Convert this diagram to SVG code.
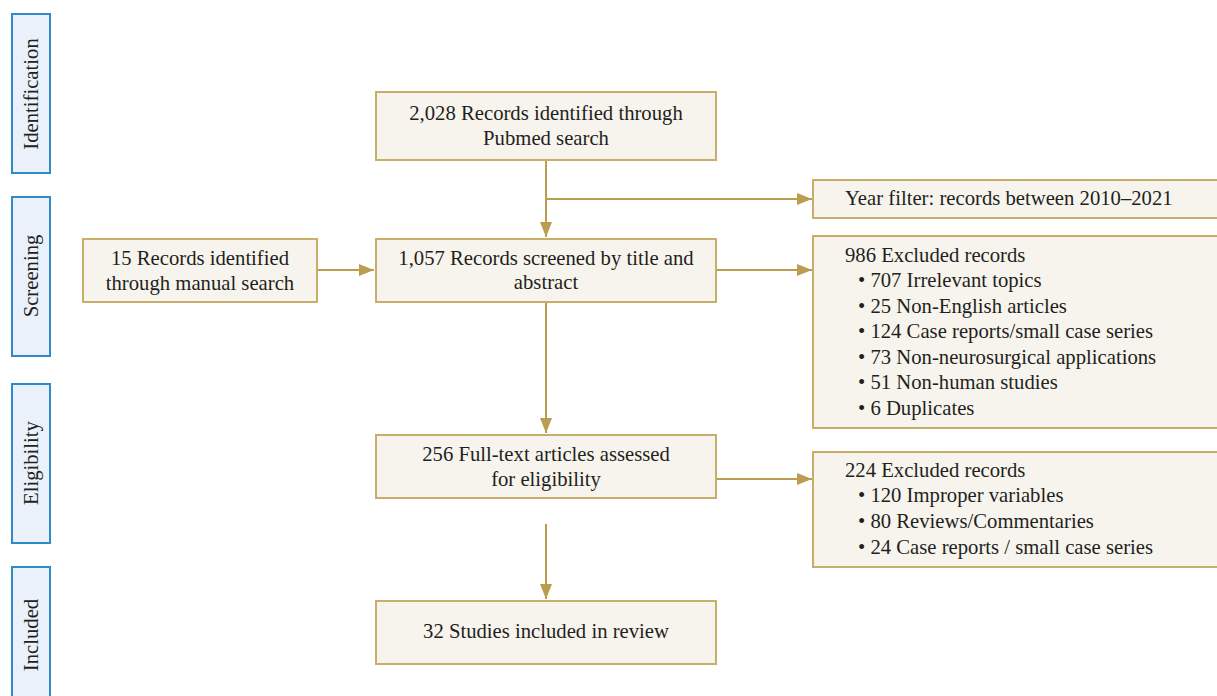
<svg xmlns="http://www.w3.org/2000/svg" width="1217" height="696" viewBox="0 0 1217 696">
<style>
.box{fill:#F7F4EE;stroke:#C9AE6B;stroke-width:2}
.stage{fill:#EAF1FA;stroke:#2E8BC6;stroke-width:2}
.t{font-family:"Liberation Serif","Times New Roman",serif;font-size:20.7px;fill:#231F20}
.c{text-anchor:middle}
.conn{stroke:#BB9D52;stroke-width:2;fill:none}
</style>
<defs>
<marker id="ah" markerUnits="userSpaceOnUse" markerWidth="15" markerHeight="12" refX="15" refY="6" orient="auto">
<path d="M0,0 L15,6 L0,12 z" fill="#BB9D52"/>
</marker>
</defs>
<rect width="1217" height="696" fill="#FFFFFF"/>

<g id="stage-identification">
<rect class="stage" x="12" y="14" width="38" height="159"/>
<text class="t c" transform="translate(38,94) rotate(-90)">Identification</text>
</g>
<g id="stage-screening">
<rect class="stage" x="12" y="197" width="38" height="159"/>
<text class="t c" transform="translate(38,276) rotate(-90)">Screening</text>
</g>
<g id="stage-eligibility">
<rect class="stage" x="12" y="384" width="38" height="159"/>
<text class="t c" transform="translate(38,463) rotate(-90)">Eligibility</text>
</g>
<g id="stage-included">
<rect class="stage" x="12" y="567" width="38" height="159"/>
<text class="t c" transform="translate(38,635) rotate(-90)">Included</text>
</g>

<g id="connectors">
<line class="conn" x1="546" y1="160" x2="546" y2="237" marker-end="url(#ah)"/>
<line class="conn" x1="546" y1="199" x2="812" y2="199" marker-end="url(#ah)"/>
<line class="conn" x1="317" y1="270" x2="374" y2="270" marker-end="url(#ah)"/>
<line class="conn" x1="716" y1="270" x2="812" y2="270" marker-end="url(#ah)"/>
<line class="conn" x1="546" y1="302" x2="546" y2="433" marker-end="url(#ah)"/>
<line class="conn" x1="716" y1="479" x2="812" y2="479" marker-end="url(#ah)"/>
<line class="conn" x1="546" y1="524" x2="546" y2="599" marker-end="url(#ah)"/>
</g>

<g id="node-pubmed">
<rect class="box" x="376" y="92" width="340" height="68"/>
<text class="t c" x="546" y="120">2,028 Records identified through</text>
<text class="t c" x="546" y="145">Pubmed search</text>
</g>
<g id="node-manual">
<rect class="box" x="83" y="239" width="234" height="63"/>
<text class="t c" x="200" y="265">15 Records identified</text>
<text class="t c" x="200" y="290">through manual search</text>
</g>
<g id="node-screened">
<rect class="box" x="376" y="239" width="340" height="63"/>
<text class="t c" x="546" y="265">1,057 Records screened by title and</text>
<text class="t c" x="546" y="289">abstract</text>
</g>
<g id="node-yearfilter">
<rect class="box" x="813" y="180" width="410" height="38"/>
<text class="t" x="845" y="205">Year filter: records between 2010–2021</text>
</g>
<g id="node-excluded986">
<rect class="box" x="813" y="236" width="410" height="192"/>
<text class="t" x="845" y="262">986 Excluded records</text>
<text class="t" x="858" y="287">• 707 Irrelevant topics</text>
<text class="t" x="858" y="313">• 25 Non-English articles</text>
<text class="t" x="858" y="338">• 124 Case reports/small case series</text>
<text class="t" x="858" y="364">• 73 Non-neurosurgical applications</text>
<text class="t" x="858" y="389">• 51 Non-human studies</text>
<text class="t" x="858" y="415">• 6 Duplicates</text>
</g>
<g id="node-fulltext">
<rect class="box" x="376" y="435" width="340" height="63"/>
<text class="t c" x="546" y="461">256 Full-text articles assessed</text>
<text class="t c" x="546" y="486">for eligibility</text>
</g>
<g id="node-excluded224">
<rect class="box" x="813" y="452" width="410" height="115"/>
<text class="t" x="845" y="477">224 Excluded records</text>
<text class="t" x="858" y="502">• 120 Improper variables</text>
<text class="t" x="858" y="528">• 80 Reviews/Commentaries</text>
<text class="t" x="858" y="554">• 24 Case reports / small case series</text>
</g>
<g id="node-included">
<rect class="box" x="376" y="601" width="340" height="63"/>
<text class="t c" x="546" y="638">32 Studies included in review</text>
</g>
</svg>
